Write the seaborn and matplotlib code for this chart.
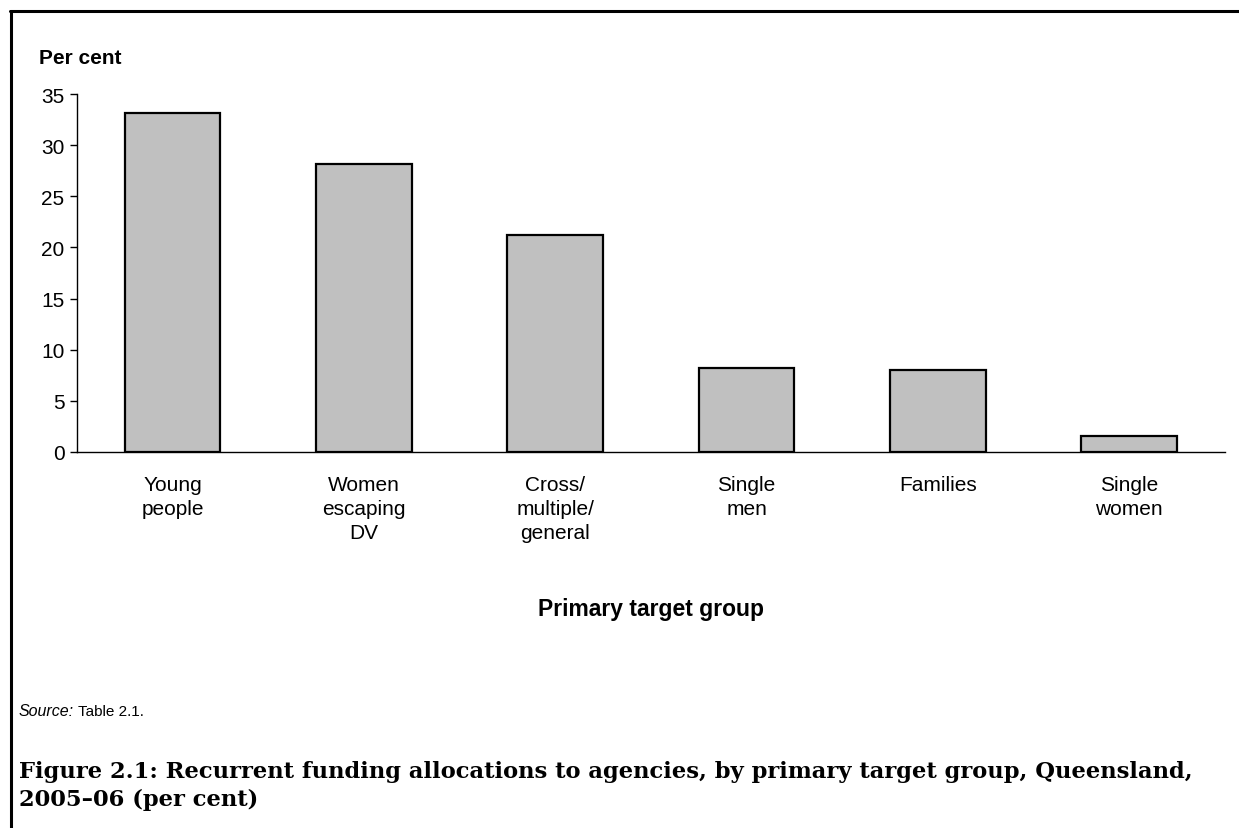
import pandas as pd
import matplotlib
matplotlib.use('Agg')
import matplotlib.pyplot as plt
import seaborn as sns
from matplotlib.lines import Line2D

# 数据
categories = ['Young\npeople', 'Women\nescaping\nDV', 'Cross/\nmultiple/\ngeneral',
              'Single\nmen', 'Families', 'Single\nwomen']
values = [33.1, 28.2, 21.2, 8.2, 8.0, 1.6]
y_ticks = [0, 5, 10, 15, 20, 25, 30, 35]

df = pd.DataFrame({'group': categories, 'pct': values})

sns.set_style('white')
plt.rcParams['font.family'] = ['Liberation Sans', 'DejaVu Sans']
plt.rcParams['text.color'] = 'black'
plt.rcParams['xtick.color'] = 'black'
plt.rcParams['ytick.color'] = 'black'

fig = plt.figure(figsize=(12.39, 8.29), dpi=100)
ax = fig.add_axes([0.0621, 0.4536, 0.9266, 0.4318])

sns.barplot(data=df, x='group', y='pct', ax=ax, color='#c0c0c0', saturation=1,
            width=0.5, edgecolor='black', linewidth=1.6)

ax.set_ylim(0, 35)
ax.set_yticks(y_ticks)
ax.set_xlim(-0.5, 5.5)
ax.tick_params(axis='y', which='both', left=True, length=5, width=1, direction='out',
               labelsize=15, pad=4, labelcolor='black')
ax.tick_params(axis='x', bottom=False, labelsize=15, pad=13, labelcolor='black')
for lbl in ax.get_xticklabels():
    lbl.set_linespacing(1.35)
    lbl.set_horizontalalignment('center')
    lbl.set_verticalalignment('top')

for side in ['top', 'right']:
    ax.spines[side].set_visible(False)
for side in ['left', 'bottom']:
    ax.spines[side].set_color('black')
    ax.spines[side].set_linewidth(1)

ax.set_xlabel('')
ax.set_ylabel('')

fig.text(0.0315, 0.930, 'Per cent', fontsize=15, fontweight='bold', ha='left', va='center')
fig.text(0.5254, 0.265, 'Primary target group', fontsize=16.5, fontweight='bold',
         ha='center', va='center')

src = fig.text(0.0153, 0.1412, 'Source:', fontsize=11.5, style='italic', ha='left', va='center')
fig.canvas.draw()
bb = src.get_window_extent().transformed(fig.transFigure.inverted())
fig.text(bb.x1 + 0.003, 0.1412, 'Table 2.1.', fontsize=11, ha='left', va='center')

title = ('Figure 2.1: Recurrent funding allocations to agencies, by primary target group, Queensland,\n'
         '2005\u201306 (per cent)')
fig.text(0.0153, 0.0520, title, fontsize=16.3, fontweight='bold', family='DejaVu Serif',
         ha='left', va='center', linespacing=1.3)

# 外框（上、左）
fig.add_artist(Line2D([0.008, 1.0], [0.9855, 0.9855], color='black', lw=2.2,
                      transform=fig.transFigure))
fig.add_artist(Line2D([0.0085, 0.0085], [0.0, 0.986], color='black', lw=2.2,
                      transform=fig.transFigure))

fig.savefig('out.png', dpi=100)
